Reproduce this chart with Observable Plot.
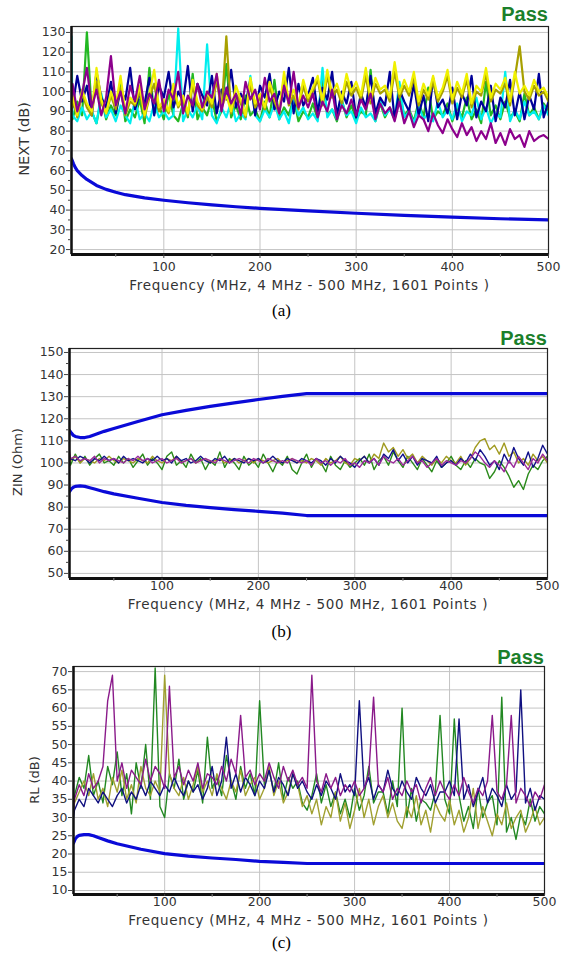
<!DOCTYPE html>
<html><head><meta charset="utf-8">
<script src="https://cdn.jsdelivr.net/npm/d3@7"></script>
<script src="https://cdn.jsdelivr.net/npm/@observablehq/plot@0.6"></script>
<style>
body{margin:0;background:#fff;}
#root{position:relative;width:563px;height:958px;overflow:hidden;background:#fff;}
#root svg{position:absolute;left:0;}
.pass{position:absolute;font:bold 20px "Liberation Sans",Arial,sans-serif;color:#1b7f2b;line-height:20px;text-align:right;}
.xtitle{position:absolute;font:13.5px "DejaVu Sans",sans-serif;letter-spacing:0.7px;color:#333;text-align:center;line-height:14px;white-space:nowrap;}
.ytitle{position:absolute;font:13.5px "DejaVu Sans",sans-serif;color:#333;line-height:14px;white-space:nowrap;transform:translate(-50%,-50%) rotate(-90deg);}
.cap{position:absolute;left:0;width:563px;text-align:center;font:17px "Liberation Serif","Times New Roman",serif;color:#000;line-height:18px;}
</style>
</head><body><div id="root"></div>
<script>
// sampling grid (MHz)
const freq = [4,5,10,15,20,25,30,35,40,45,50,55,60,65,70,75,80,85,90,95,100,105,110,115,120,125,130,135,140,145,150,155,160,165,170,175,180,185,190,195,200,205,210,215,220,225,230,235,240,245,250,255,260,265,270,275,280,285,290,295,300,305,310,315,320,325,330,335,340,345,350,355,360,365,370,375,380,385,390,395,400,405,410,415,420,425,430,435,440,445,450,455,460,465,470,475,480,485,490,495,500];

// ---- (a) NEXT (dB)
const nextYellow = [92,98,88,101,94,90,112,96,89,100,93,108,90,97,94,103,88,99,111,92,96,90,104,93,98,89,106,95,91,100,94,109,92,98,90,103,96,88,107,94,99,92,105,97,90,110,95,101,93,106,97,102,108,95,111,99,104,96,109,100,105,98,112,96,107,101,103,97,115,99,106,100,110,95,104,98,108,97,102,111,96,105,99,109,94,103,100,112,97,104,101,107,95,110,99,103,98,106,100,102,97];
const nextOlive = [90,96,87,99,92,88,105,94,89,98,91,102,88,95,93,100,87,97,104,90,94,89,101,92,96,88,103,93,90,97,92,106,90,128,89,99,94,87,104,92,97,91,102,95,89,107,93,98,91,103,95,100,106,93,108,97,101,94,105,98,102,96,108,94,104,99,101,95,110,97,103,98,107,93,101,96,105,95,100,108,94,102,97,106,92,100,98,109,95,101,99,104,93,107,123,100,96,103,98,100,95];
const nextCyan = [128,88,85,92,86,90,84,99,87,91,85,93,88,84,96,86,89,85,94,87,90,86,88,132,85,91,87,93,86,124,88,84,92,87,95,85,89,86,108,88,85,91,87,94,86,90,84,97,88,92,86,89,85,112,87,91,86,95,88,90,84,92,87,89,85,96,88,91,86,105,87,90,84,93,86,89,85,95,87,91,86,94,85,90,88,97,86,92,84,89,87,110,85,91,86,95,88,90,86,93,88];
const nextGreen = [92,86,95,88,130,90,84,97,86,93,88,104,85,91,87,96,84,112,89,93,86,99,88,85,94,87,109,86,92,88,97,85,90,114,87,93,86,98,88,91,85,95,87,106,86,92,88,97,85,90,87,94,86,108,88,91,85,96,87,93,86,90,88,111,85,94,87,92,86,98,88,91,85,95,87,102,86,90,88,94,85,92,87,97,86,91,84,105,88,93,86,95,87,90,85,99,88,92,86,94,90];
const nextNavy = [100,92,108,95,103,88,110,97,92,105,89,101,96,112,91,99,94,107,88,103,97,110,92,100,95,113,90,104,98,93,108,89,101,96,111,92,99,94,106,88,103,97,109,91,100,95,112,89,104,93,98,107,90,102,96,110,88,100,94,105,87,99,92,108,89,97,93,110,86,101,95,90,104,88,98,85,107,92,96,89,102,86,99,93,108,87,95,90,103,85,97,92,106,88,100,86,98,91,109,87,95];
const nextPurple = [96,104,90,99,112,92,101,88,97,118,93,100,89,103,95,108,91,99,94,106,90,101,96,110,89,98,93,104,92,100,97,109,90,102,94,99,88,105,96,101,91,107,95,99,89,103,94,110,92,98,92,99,87,95,90,101,86,93,89,96,88,96,91,99,86,94,89,92,85,95,84,90,82,88,86,80,89,83,79,86,81,77,84,78,82,75,80,76,84,74,79,73,81,76,78,72,80,75,77,78,76];
const nextLimitFreq = [4,6,8,10,15,20,30,40,50,60,80,100,125,150,175,200,250,300,350,400,450,500];
const nextLimit = [66,63.5,61.5,60,57.5,55.5,52.5,50.5,49,47.8,46.2,45,43.7,42.6,41.7,40.9,39.6,38.4,37.3,36.4,35.6,35.0];

// ---- (b) ZIN (Ohm)
const zinGreen = [103,99,104,100,103,99,102,104,100,101,99,103,100,102,98,101,104,99,102,100,97,103,105,99,101,98,104,100,102,97,101,99,105,98,102,100,97,103,99,101,98,104,100,96,101,99,103,97,95,100,104,98,102,100,96,103,99,97,101,98,100,102,99,104,97,101,103,99,105,101,98,103,100,97,102,99,96,101,98,100,103,99,97,101,98,102,100,99,93,96,101,98,94,89,92,88,95,99,97,101,103];
const zinOlive = [102,101,103,100,102,101,100,102,101,103,101,100,102,101,100,102,101,100,103,101,100,102,101,103,100,101,102,100,101,102,100,101,102,100,101,102,100,101,102,100,102,101,100,101,102,100,101,102,100,101,100,102,101,99,102,100,101,103,100,99,102,101,103,100,104,102,109,105,107,103,106,102,104,100,103,101,99,102,100,103,101,100,103,99,102,107,110,111,106,108,104,109,103,105,100,102,99,104,101,103,100];
const zinNavy = [104,102,101,103,102,100,102,101,103,101,102,100,103,101,102,101,100,102,101,103,101,102,100,103,101,102,100,101,103,101,100,102,101,103,100,102,101,100,102,101,102,100,101,103,101,100,102,101,100,102,101,100,102,101,99,102,100,103,101,100,98,101,103,100,102,99,104,102,106,101,104,100,103,99,102,101,100,103,98,100,101,99,102,100,104,101,106,103,99,101,97,104,100,107,102,99,105,98,102,108,104];
const zinPurple = [105,102,103,101,102,101,103,100,102,101,102,101,100,102,101,103,101,102,100,101,102,100,101,102,100,101,102,100,101,102,101,100,102,101,100,101,102,101,100,102,101,100,102,101,100,101,100,102,101,100,101,99,102,100,101,99,101,100,102,99,100,98,101,100,102,99,103,101,100,102,99,101,103,100,101,98,100,102,99,101,100,99,101,100,102,105,103,100,98,101,99,96,101,98,103,100,97,102,100,104,101];
const zinLimitFreq = [4,6,8,10,15,20,25,30,40,50,75,100,125,150,175,200,225,250,300,350,400,450,500];
const zinUpper = [114.7,113.5,112.5,112,111.5,111.5,112,112.8,114.3,115.6,118.8,121.8,123.8,125.6,127.2,128.7,130.1,131.4,131.4,131.4,131.4,131.4,131.4];
const zinLower = [87,88.3,89,89.4,89.6,89.4,88.8,88.2,87,86,84,82.1,80.8,79.8,78.9,78.1,77.3,76.2,76.2,76.2,76.2,76.2,76.2];

// ---- (c) RL (dB)
const rlGreen = [33,36,41,38,47,36,40,34,44,39,48,36,42,31,45,38,50,35,71,33,30,42,38,46,35,40,37,43,34,52,38,41,36,47,40,35,44,38,42,36,62,39,43,37,45,35,41,38,40,34,32,36,42,34,39,33,37,31,35,30,38,32,36,44,34,37,37,31,40,33,60,30,38,29,35,34,32,37,58,35,31,57,36,29,33,27,38,30,34,36,28,63,26,30,24,31,28,35,29,33,31];
const rlOlive = [31,34,37,40,36,42,35,38,33,41,37,43,35,39,34,44,38,36,40,37,69,42,38,36,41,35,39,44,37,40,36,42,38,35,40,37,43,36,39,41,35,38,44,36,40,34,37,42,39,33,36,31,35,28,33,30,37,29,34,27,32,38,30,35,28,33,36,30,34,29,27,33,30,36,28,32,26,34,31,29,35,28,32,26,30,38,27,33,29,25,31,28,34,27,30,32,26,29,33,28,30];
const rlNavy = [30,32,35,33,38,36,34,37,35,33,36,38,34,37,35,39,36,40,38,36,39,37,41,38,36,40,37,39,35,38,44,36,40,52,38,42,37,41,39,36,40,38,43,37,41,39,36,42,38,40,37,35,39,36,40,38,35,42,37,39,36,62,38,41,35,39,37,43,38,36,40,37,35,41,38,36,39,34,37,37,40,36,57,35,39,33,37,41,34,38,36,33,39,35,37,65,34,38,32,36,35];
const rlPurple = [32,35,39,36,42,38,40,44,62,69,40,45,38,43,41,39,46,40,44,42,38,66,41,44,39,43,40,45,38,42,41,39,44,40,46,42,58,41,43,39,42,40,45,41,38,44,40,43,39,41,38,69,40,37,42,38,41,36,39,37,40,36,38,42,63,39,37,41,35,38,36,40,37,39,34,38,41,36,40,37,35,39,36,41,37,34,38,36,40,58,37,35,39,58,34,38,36,33,37,35,39];
const rlLimitFreq = [4,6,8,10,15,20,25,30,40,50,75,100,125,150,175,200,225,250,300,350,400,450,500];
const rlLimit = [23,24.2,24.8,25.1,25.3,25.3,25,24.5,23.6,22.8,21.3,20.1,19.4,18.9,18.5,18.0,17.7,17.4,17.4,17.4,17.4,17.4,17.4];

// tick labels
const xTicks = [100,200,300,400,500];
const xMinor = [50,150,250,350,450];
const xGrid = [100,200,300,400];
const nextTicks = [20,30,40,50,60,70,80,90,100,110,120,130];
const zinTicks = [50,60,70,80,90,100,110,120,130,140,150];
const rlTicks = [10,15,20,25,30,35,40,45,50,55,60,65,70];

const pts = (xs, ys) => ys.map((v, i) => ({f: xs[i], v}));

const root = document.getElementById("root");

function panel(cfg) {
  const {top, frameTop, frameBottom, left, right, yDomain, yTicks, yMinor, traces, limits, tw, title, ytx, yty, ytSize, passTop, xTitleTop, capTop, cap, xTickSize, xTickPad} = cfg;
  const mb = 24;
  const svg = Plot.plot({
    width: 563,
    height: frameBottom - top + mb,
    marginTop: frameTop - top,
    marginBottom: mb,
    marginLeft: left,
    marginRight: 563 - right,
    x: {domain: [4, 500]},
    y: {domain: yDomain},
    style: {fontFamily: "DejaVu Sans, sans-serif", fontSize: "12.5px", color: "#333", background: "transparent", overflow: "visible"},
    marks: [
      Plot.gridY(yTicks, {stroke: "#c4c4c4", strokeOpacity: 1}),
      Plot.gridX(xGrid, {stroke: "#c4c4c4", strokeOpacity: 1}),
      ...traces.map(t => Plot.line(pts(freq, t.v), {x: "f", y: "v", stroke: t.c, strokeWidth: tw, clip: true})),
      ...limits.map(l => Plot.line(pts(l.f, l.v), {x: "f", y: "v", stroke: "#0a0ad8", strokeWidth: 3.2, clip: true})),
      Plot.frame({stroke: "#222", strokeWidth: 1.2}),
      Plot.ruleX([4], {stroke: "#111", strokeWidth: 2.5}),
      Plot.ruleY([yDomain[0]], {stroke: "#111", strokeWidth: 3}),
      Plot.axisY(yTicks, {tickSize: 5, tickPadding: 1, stroke: "#444", label: null}),
      Plot.axisY(yMinor, {tickSize: 3, text: null, stroke: "#444", label: null}),
      Plot.axisX(xTicks, {tickSize: xTickSize, tickPadding: xTickPad, stroke: "#444", label: null}),
      Plot.axisX(xMinor, {tickSize: 3, text: null, stroke: "#888", label: null})
    ]
  });
  svg.style.top = top + "px";
  root.appendChild(svg);

  const p = document.createElement("div");
  p.className = "pass";
  p.textContent = "Pass";
  p.style.top = passTop + "px";
  p.style.right = (563 - right) + "px";
  root.appendChild(p);

  const xt = document.createElement("div");
  xt.className = "xtitle";
  xt.textContent = "Frequency (MHz, 4 MHz - 500 MHz, 1601 Points )";
  xt.style.left = left + "px";
  xt.style.width = (right - left) + "px";
  xt.style.top = xTitleTop + "px";
  root.appendChild(xt);

  const yt = document.createElement("div");
  yt.className = "ytitle";
  yt.textContent = title;
  yt.style.left = ytx + "px";
  yt.style.top = yty + "px";
  yt.style.fontSize = ytSize + "px";
  root.appendChild(yt);

  const c = document.createElement("div");
  c.className = "cap";
  c.textContent = cap;
  c.style.top = capTop + "px";
  root.appendChild(c);
}

panel({
  top: 0, frameTop: 26, frameBottom: 254, left: 71, right: 548,
  yDomain: [17.5, 133], yTicks: nextTicks, yMinor: [25,35,45,55,65,75,85,95,105,115,125],
  tw: 2.2, xTickSize: 4, xTickPad: 4,
  traces: [
    {v: nextGreen, c: "#22b822"},
    {v: nextCyan, c: "#00eeee"},
    {v: nextNavy, c: "#000098"},
    {v: nextOlive, c: "#a8a000"},
    {v: nextYellow, c: "#f0f000"},
    {v: nextPurple, c: "#8c008c"}
  ],
  limits: [{f: nextLimitFreq, v: nextLimit}],
  title: "NEXT (dB)", ytx: 24, yty: 139, ytSize: 14.5, passTop: 4, xTitleTop: 278, capTop: 302, cap: "(a)"
});

panel({
  top: 322, frameTop: 348, frameBottom: 578, left: 69, right: 547,
  yDomain: [47.7, 151.8], yTicks: zinTicks, yMinor: [55,65,75,85,95,105,115,125,135,145],
  tw: 1.4, xTickSize: 2, xTickPad: 1,
  traces: [
    {v: zinGreen, c: "#2a8a1a"},
    {v: zinOlive, c: "#a09a20"},
    {v: zinNavy, c: "#10108a"},
    {v: zinPurple, c: "#9a2a9a"}
  ],
  limits: [{f: zinLimitFreq, v: zinUpper}, {f: zinLimitFreq, v: zinLower}],
  title: "ZIN (Ohm)", ytx: 18, yty: 462, ytSize: 13, passTop: 328, xTitleTop: 597, capTop: 623, cap: "(b)"
});

panel({
  top: 640, frameTop: 666, frameBottom: 894, left: 73, right: 544,
  yDomain: [8.9, 71.4], yTicks: rlTicks, yMinor: [],
  tw: 1.4, xTickSize: 2, xTickPad: 1,
  traces: [
    {v: rlGreen, c: "#228822"},
    {v: rlOlive, c: "#a0a030"},
    {v: rlNavy, c: "#101080"},
    {v: rlPurple, c: "#8a1a8a"}
  ],
  limits: [{f: rlLimitFreq, v: rlLimit}],
  title: "RL (dB)", ytx: 35, yty: 780, ytSize: 13, passTop: 647, xTitleTop: 913, capTop: 934, cap: "(c)"
});
</script>
</body></html>
